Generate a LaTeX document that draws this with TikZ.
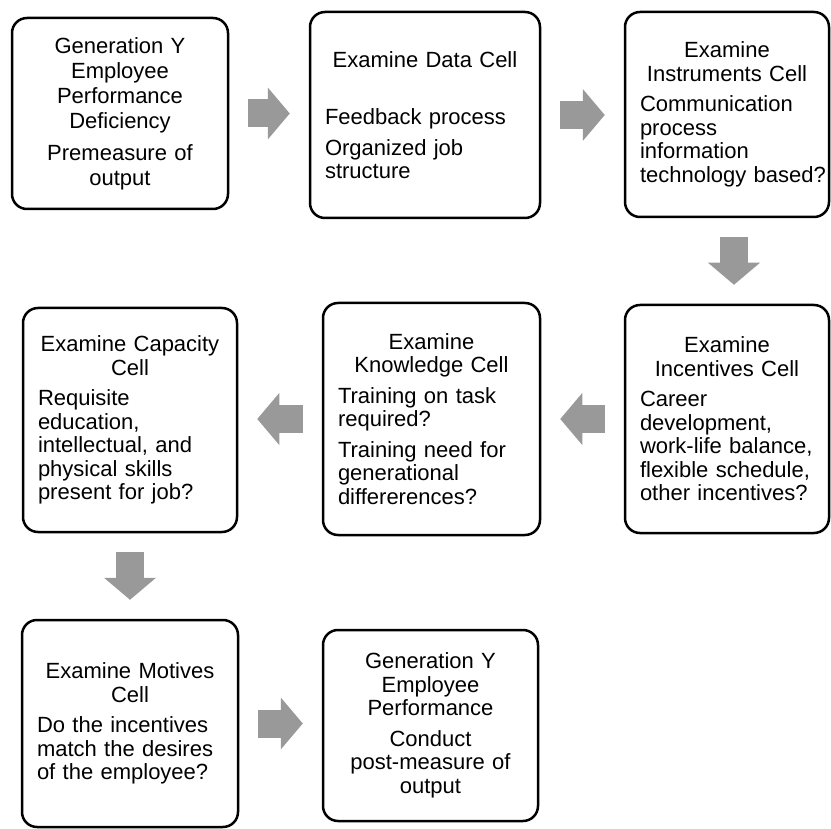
\documentclass[tikz,border=0pt]{standalone}
\usepackage{fontspec}
\setmainfont{Liberation Sans}
\usetikzlibrary{arrows.meta}
\definecolor{FlowGray}{HTML}{999999}
\setlength{\parindent}{0pt}

\begin{document}
\begin{tikzpicture}[
    x=1pt, y=-1pt,
    cell/.style={draw=black, line width=2.5pt, fill=white, rounded corners=15pt,
      inner xsep=15pt, inner ysep=0pt, font=\fontsize{22}{23.5}\selectfont},
    flow/.style={-{Triangle[length=22pt, width=52pt, line width=0pt]}, line width=28pt,
      draw=FlowGray, shorten <=19pt, shorten >=19pt}
  ]
  \useasboundingbox (0,0) rectangle (831,829);
  % top row
  \node[cell, font=\fontsize{22}{25}\selectfont, minimum width=216pt, minimum height=191pt, text width=186pt] (deficiency) at (120,113.5)
    {\centering Generation Y\\Employee\\Performance\\Deficiency\par\vspace{7pt}
     Premeasure of\\output\par};
  \node[cell, minimum width=230pt, minimum height=206pt, text width=200pt] (data) at (425,115)
    {{\centering Examine Data Cell\par}\vspace{34pt}\raggedright
     Feedback process\par\vspace{7pt}
     Organized job\\structure\par};
  \node[cell, minimum width=204pt, minimum height=205pt, text width=174pt] (instruments) at (727,114.5)
    {{\centering Examine\\Instruments Cell\par}\vspace{7pt}\raggedright
     Communication\\process\\information\\technology~based?\par};
  % middle row
  \node[cell, minimum width=204pt, minimum height=228pt, text width=174pt] (incentives) at (727,419)
    {{\centering Examine\\Incentives Cell\par}\vspace{7pt}\raggedright
     Career\\development,\\work-life balance,\\flexible schedule,\\other incentives?\par};
  \node[cell, minimum width=217pt, minimum height=232pt, text width=187pt] (knowledge) at (431.5,419)
    {{\centering Examine\\Knowledge Cell\par}\vspace{7pt}\raggedright
     Training on task\\required?\par\vspace{7pt}
     Training need for\\generational\\differerences?\par};
  \node[cell, minimum width=214pt, minimum height=224pt, text width=184pt] (capacity) at (130,420)
    {{\centering Examine Capacity\\Cell\par}\vspace{7pt}\raggedright
     Requisite\\education,\\intellectual, and\\physical skills\\present for job?\par};
  % bottom row
  \node[cell, minimum width=216pt, minimum height=207pt, text width=186pt] (motives) at (130,723.5)
    {{\centering Examine Motives\\Cell\par}\vspace{7pt}\raggedright
     Do the incentives\\match the desires\\of the employee?\par};
  \node[cell, minimum width=215pt, minimum height=191pt, text width=185pt] (final) at (430.5,725.5)
    {\centering Generation Y\\Employee\\Performance\par\vspace{7pt}
     Conduct\\post-measure of\\output\par};
  % block arrows
  \draw[flow] (deficiency.east) -- (deficiency.east -| data.west);
  \draw[flow] (data.east) -- (data.east -| instruments.west);
  \draw[flow] ([xshift=7pt]instruments.south) -- ([xshift=7pt]instruments.south |- incentives.north);
  \draw[flow] (incentives.west) -- (incentives.west -| knowledge.east);
  \draw[flow] (knowledge.west) -- (knowledge.west -| capacity.east);
  \draw[flow] (capacity.south) -- (capacity.south |- motives.north);
  \draw[flow] (motives.east) -- (motives.east -| final.west);
\end{tikzpicture}
\end{document}
